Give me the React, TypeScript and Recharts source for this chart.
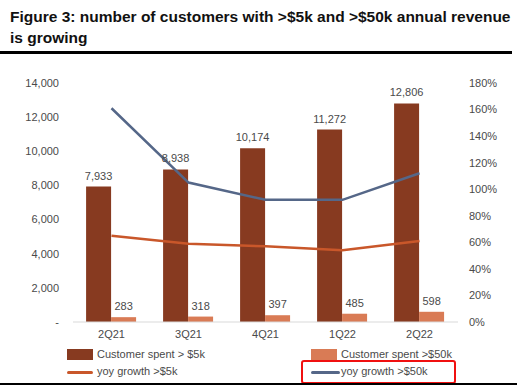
import React from "react";
import {
  Bar,
  ComposedChart,
  LabelList,
  Line,
  XAxis,
  YAxis,
} from "recharts";

const quarters = ["2Q21", "3Q21", "4Q21", "1Q22", "2Q22"];
const spent5k = [7933, 8938, 10174, 11272, 12806];
const spent50k = [283, 318, 397, 485, 598];
const growth5k = [65, 59, 57, 54, 61];
const growth50k = [161, 105, 92, 92, 112];

const leftTicks = [0, 2000, 4000, 6000, 8000, 10000, 12000, 14000];
const rightTicks = [0, 20, 40, 60, 80, 100, 120, 140, 160, 180];

const DARK = "#873a20";
const LIGHT = "#d97b55";
const ORANGE = "#c9572a";
const BLUE = "#556788";
const TEXT = "#4a4a4a";
const FONT = "'Liberation Sans', Arial, sans-serif";

const data = quarters.map((q, i) => ({
  q,
  s5: spent5k[i],
  s50: spent50k[i],
  g5: growth5k[i],
  g50: growth50k[i],
}));

export default function App() {
  const legendText = { fontSize: 11, color: TEXT, fontFamily: FONT };
  return (
    <div
      style={{
        position: "fixed",
        left: 0,
        top: 0,
        width: 517,
        height: 385,
        background: "#fff",
        fontFamily: FONT,
        overflow: "hidden",
      }}
    >
      <div
        style={{
          position: "absolute",
          left: 10,
          top: 6,
          width: 505,
          fontWeight: 700,
          fontSize: 15.5,
          lineHeight: "21px",
          color: "#111",
        }}
      >
        Figure 3: number of customers with &gt;$5k and &gt;$50k annual revenue
        <br />
        is growing
      </div>
      <div style={{ position: "absolute", left: 0, top: 51, width: 512, height: 3, background: "#000" }} />

      <div style={{ position: "absolute", left: 0, top: 0 }}>
        <ComposedChart
          width={517}
          height={345}
          data={data}
          margin={{ top: 83, right: 0, bottom: 0, left: 0 }}
          barCategoryGap="17%"
          barGap={0}
        >
          <XAxis
            dataKey="q"
            tickLine={false}
            axisLine={{ stroke: "#d9d9d9" }}
            tick={{ fontSize: 11, fill: TEXT, fontFamily: FONT }}
            height={23}
          />
          <YAxis
            yAxisId="left"
            domain={[0, 14000]}
            ticks={leftTicks}
            width={73}
            tickMargin={8}
            tick={{ fontSize: 11, fill: TEXT, fontFamily: FONT }}
            tickLine={false}
            axisLine={false}
            tickFormatter={(v: number) => (v === 0 ? "-" : v.toLocaleString("en-US"))}
          />
          <YAxis
            yAxisId="right"
            orientation="right"
            domain={[0, 180]}
            ticks={rightTicks}
            width={59}
            tickMargin={5}
            tick={{ fontSize: 11, fill: TEXT, fontFamily: FONT, textAnchor: "start" }}
            tickLine={false}
            axisLine={false}
            tickFormatter={(v: number) => `${v}%`}
          />
          <Bar yAxisId="left" dataKey="s5" fill={DARK} isAnimationActive={false}>
            <LabelList
              dataKey="s5"
              position="top"
              offset={7}
              formatter={(v: number) => v.toLocaleString("en-US")}
              style={{ fontSize: 11, fill: TEXT, fontFamily: FONT }}
            />
          </Bar>
          <Bar yAxisId="left" dataKey="s50" fill={LIGHT} isAnimationActive={false}>
            <LabelList
              dataKey="s50"
              position="top"
              offset={7}
              style={{ fontSize: 11, fill: TEXT, fontFamily: FONT }}
            />
          </Bar>
          <Line
            yAxisId="right"
            dataKey="g5"
            stroke={ORANGE}
            strokeWidth={2.5}
            dot={false}
            type="linear"
            isAnimationActive={false}
          />
          <Line
            yAxisId="right"
            dataKey="g50"
            stroke={BLUE}
            strokeWidth={2.5}
            dot={false}
            type="linear"
            isAnimationActive={false}
          />
        </ComposedChart>
      </div>

      {/* legend */}
      <div style={{ position: "absolute", left: 67, top: 349, width: 26, height: 11, background: DARK }} />
      <div style={{ position: "absolute", left: 97, top: 348, ...legendText }}>Customer spent &gt; $5k</div>
      <div style={{ position: "absolute", left: 311, top: 349, width: 26, height: 11, background: LIGHT }} />
      <div style={{ position: "absolute", left: 341, top: 348, ...legendText }}>Customer spent &gt;$50k</div>
      <div style={{ position: "absolute", left: 67, top: 371, width: 26, height: 3, background: ORANGE, borderRadius: 2 }} />
      <div style={{ position: "absolute", left: 97, top: 365, ...legendText }}>yoy growth &gt;$5k</div>
      <div style={{ position: "absolute", left: 311, top: 371, width: 29, height: 3, background: BLUE, borderRadius: 2 }} />
      <div style={{ position: "absolute", left: 341, top: 365, ...legendText }}>yoy growth &gt;$50k</div>

      <div
        style={{
          position: "absolute",
          left: 301,
          top: 360,
          width: 151,
          height: 20,
          border: "2px solid #f01010",
          borderRadius: 3,
        }}
      />
      <div style={{ position: "absolute", left: 0, top: 383, width: 517, height: 2, background: "#000" }} />
    </div>
  );
}
